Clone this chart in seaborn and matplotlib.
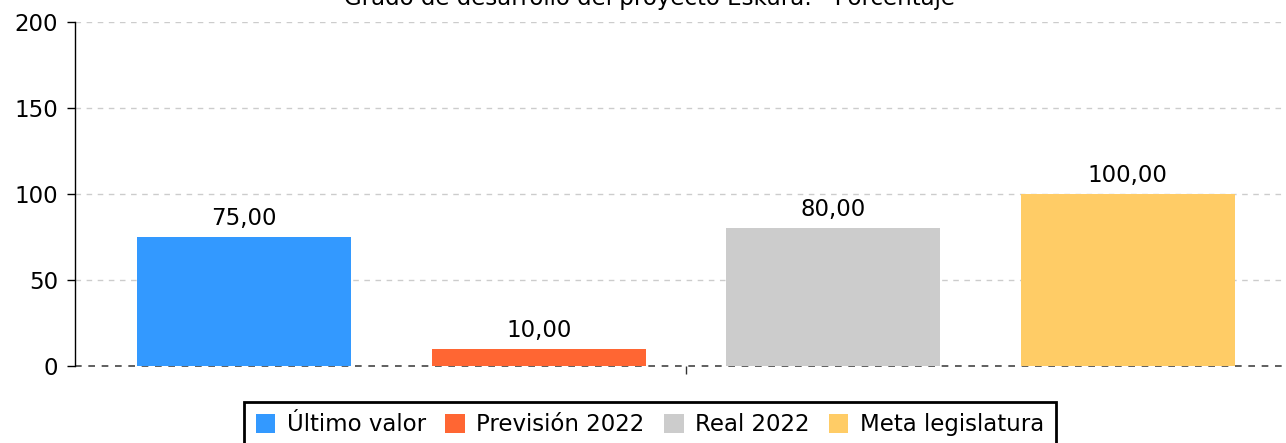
import matplotlib
matplotlib.use("Agg")
import matplotlib.pyplot as plt
import seaborn as sns
import pandas as pd

# Data
category = ["Grado de desarrollo"]
series = ["Último valor", "Previsión 2022", "Real 2022", "Meta legislatura"]
values = [75.0, 10.0, 80.0, 100.0]
colors = ["#3399FF", "#FF6633", "#CCCCCC", "#FFCC66"]
y_ticks = [0, 50, 100, 150, 200]
title = "Grado de desarrollo del proyecto Eskura: - Porcentaje"

df = pd.DataFrame({
    "cat": category * len(series),
    "serie": series,
    "valor": values,
})

sns.set_style("white")
plt.rcParams["font.family"] = ["DejaVu Sans"]
plt.rcParams["text.color"] = "black"

W, H = 1286, 443
fig = plt.figure(figsize=(W / 100, H / 100), dpi=100)
ax = fig.add_axes([75 / W, 1 - 366 / H, 1222 / W, (366 - 22) / H])

sns.barplot(data=df, x="cat", y="valor", hue="serie", hue_order=series,
            palette=colors, width=0.964, gap=0.273, saturation=1,
            edgecolor="none", linewidth=0, ax=ax, zorder=3, legend=True)

ax.set_ylim(0, 200)
ax.set_xlim(-0.5, 0.5)
ax.set_yticks(y_ticks)
ax.set_yticklabels([str(t) for t in y_ticks], fontsize=16.5)
ax.set_xticks([0])
ax.set_xticklabels([""])
ax.set_xlabel("")
ax.set_ylabel("")

# grid lines
for t in y_ticks[1:]:
    ax.axhline(t, color="#CCCCCC", linestyle=(0, (4, 4)), linewidth=1, zorder=1)
ax.axhline(0, color="#444444", linestyle=(0, (4, 4)), linewidth=1.2, zorder=2,
           clip_on=False)

for s in ["top", "right", "bottom"]:
    ax.spines[s].set_visible(False)
ax.spines["left"].set_color("black")
ax.spines["left"].set_linewidth(1)
ax.tick_params(axis="y", which="both", left=True, length=6, width=1,
               color="black", pad=6, labelcolor="black")
ax.tick_params(axis="x", which="both", bottom=True, length=6, width=1,
               color="#333333")

# value labels
for cont in ax.containers:
    labels = [f"{v:.2f}".replace(".", ",") for v in cont.datavalues]
    ax.bar_label(cont, labels=labels, padding=5, fontsize=16.5, color="black")

# legend
h, l = ax.get_legend_handles_labels()
ax.get_legend().remove()
leg = fig.legend(h, l, loc="upper center", bbox_to_anchor=(650 / W, 1 - 402 / H),
                 ncol=4, frameon=True, fancybox=False, fontsize=16.5,
                 handlelength=0.85, handleheight=0.85, handletextpad=0.5,
                 columnspacing=0.85, borderpad=0.5, borderaxespad=0,
                 labelcolor="black")
leg.get_frame().set_edgecolor("black")
leg.get_frame().set_linewidth(2)
leg.get_frame().set_alpha(1)

fig.text(650 / W, 1 - 5 / H, title, ha="center", va="baseline", fontsize=16.5,
         color="black")

fig.savefig("out.png", dpi=100)
